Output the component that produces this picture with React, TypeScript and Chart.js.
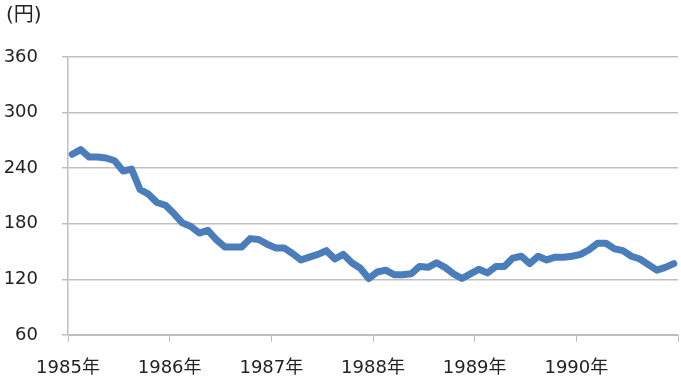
import React, { useEffect, useRef } from "react";
import { Chart, registerables } from "chart.js";

Chart.register(...registerables);

const yearLabels = ["1985年", "1986年", "1987年", "1988年", "1989年", "1990年"];
const unitLabel = "(円)";

const v1985 = [255, 260, 252, 252, 251, 248, 237, 239, 217, 212, 203, 200];
const v1986 = [191, 181, 177, 170, 173, 163, 155, 155, 155, 164, 163, 158];
const v1987 = [154, 154, 148, 141, 144, 147, 151, 142, 147, 138, 132, 121];
const v1988 = [128, 130, 125, 125, 126, 134, 133, 138, 133, 126, 121, 126];
const v1989 = [131, 127, 134, 134, 143, 145, 137, 145, 141, 144, 144, 145];
const v1990 = [147, 152, 159, 159, 153, 151, 145, 142, 136, 130, 133, 137];

const monthly = [...v1985, ...v1986, ...v1987, ...v1988, ...v1989, ...v1990];

const FONT = "'DejaVu Sans', 'Noto Sans CJK JP', sans-serif";

export default function App() {
  const ref = useRef<HTMLCanvasElement | null>(null);

  useEffect(() => {
    if (!ref.current) return;
    const points = monthly.map((v, i) => ({ x: i + 0.5, y: v }));
    const chart = new Chart(ref.current, {
      type: "line",
      data: {
        datasets: [
          {
            data: points,
            borderColor: "#4A7EBB",
            borderWidth: 7,
            pointRadius: 0,
            tension: 0,
            borderJoinStyle: "round",
            borderCapStyle: "round",
            fill: false,
          },
        ],
      },
      options: {
        animation: false,
        responsive: false,
        maintainAspectRatio: false,
        layout: { padding: { top: 57, right: 3, left: 0, bottom: 0 } },
        plugins: { legend: { display: false }, tooltip: { enabled: false } },
        scales: {
          x: {
            type: "linear",
            min: 0,
            max: 72,
            afterBuildTicks: (s: any) => {
              s.ticks = [0, 12, 24, 36, 48, 60, 72].map((v) => ({ value: v }));
            },
            afterFit: (s: any) => {
              s.height = 46;
              s.paddingRight = 0;
              s.paddingLeft = 0;
            },
            ticks: {
              autoSkip: false,
              maxRotation: 0,
              padding: 16,
              color: "#222",
              font: { family: FONT, size: 18 },
              callback: (v: any) => {
                const idx = Math.round(Number(v) / 12);
                return yearLabels[idx] ?? "";
              },
            },
            grid: {
              display: true,
              drawOnChartArea: false,
              drawTicks: true,
              tickLength: 7,
              color: "#BFBFBF",
            },
            border: { display: true, color: "#BFBFBF", width: 1 },
          },
          y: {
            min: 60,
            max: 360,
            afterFit: (s: any) => {
              s.width = 68;
            },
            ticks: {
              stepSize: 60,
              padding: 24,
              color: "#222",
              font: { family: FONT, size: 18 },
            },
            grid: {
              color: "#BFBFBF",
              drawTicks: true,
              tickLength: 6,
              lineWidth: 1.5,
            },
            border: { display: true, color: "#BFBFBF", width: 1.5 },
          },
        },
      },
    });
    return () => chart.destroy();
  }, []);

  return (
    <div style={{ position: "fixed", left: 0, top: 0, width: 681, height: 381, background: "#fff" }}>
      <canvas ref={ref} width={681} height={381} style={{ display: "block" }} />
      <div
        style={{
          position: "absolute",
          left: 6,
          top: 2,
          fontFamily: FONT,
          fontSize: 20,
          color: "#222",
          lineHeight: "24px",
        }}
      >
        {unitLabel}
      </div>
    </div>
  );
}
